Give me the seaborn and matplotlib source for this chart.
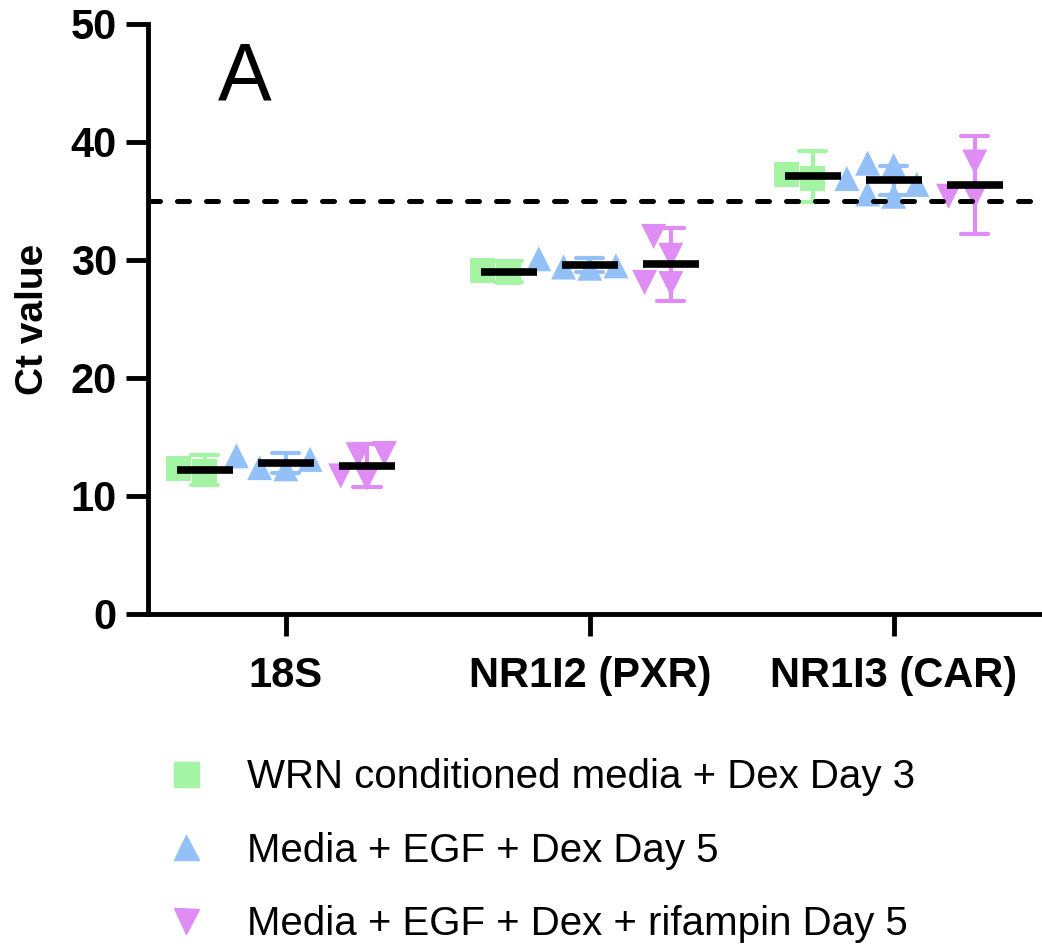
import numpy as np
import pandas as pd
import matplotlib
matplotlib.use("Agg")
import matplotlib.pyplot as plt
from matplotlib.lines import Line2D
import seaborn as sns

genes = ["18S", "NR1I2 (PXR)", "NR1I3 (CAR)"]
conds = ["WRN conditioned media + Dex Day 3",
         "Media + EGF + Dex Day 5",
         "Media + EGF + Dex + rifampin Day 5"]
markers = ["s", "^", "v"]
colors = ["#a3f5a3", "#93c1f7", "#e08cf5"]

# Ct values per gene, per condition
wrn_day3 = {"18S": [12.1, 12.3],
            "NR1I2 (PXR)": [28.93, 29.07],
            "NR1I3 (CAR)": [36.93, 37.27]}
egf_day5 = {"18S": [13.4, 13.1, 12.4, 12.3],
            "NR1I2 (PXR)": [30.1, 29.5, 29.4, 29.3],
            "NR1I3 (CAR)": [38.0, 38.2, 35.4, 35.6, 36.9, 36.4]}
rif_day5 = {"18S": [13.6, 13.5, 11.5, 11.7],
            "NR1I2 (PXR)": [32.0, 30.4, 28.0, 28.1],
            "NR1I3 (CAR)": [38.3, 35.4, 35.4]}
cutoff = 35

rows = []
for cond, d in zip(conds, [wrn_day3, egf_day5, rif_day5]):
    for g in genes:
        for v in d[g]:
            rows.append({"gene": g, "cond": cond, "ct": v})
df = pd.DataFrame(rows)

# two-sided 95% t quantiles by sample size
T95 = {2: 12.706, 3: 4.303, 4: 3.182, 5: 2.776, 6: 2.571, 7: 2.447, 8: 2.365}


def ci95(x):
    x = np.asarray(x)
    m = x.mean()
    h = T95[len(x)] * x.std(ddof=1) / np.sqrt(len(x))
    return (m - h, m + h)


sns.set_style("ticks")
plt.rcParams["font.family"] = ["Liberation Sans", "DejaVu Sans"]
plt.rcParams["text.color"] = "black"
plt.rcParams["axes.labelcolor"] = "black"
plt.rcParams["xtick.color"] = "black"
plt.rcParams["ytick.color"] = "black"
plt.rcParams["axes.edgecolor"] = "black"

fig = plt.figure(figsize=(10.42, 9.44), dpi=100)
ax = fig.add_axes([147.5 / 1042, 0.3496, 0.862, 0.625])

for cond, m, c in zip(conds, markers, colors):
    sns.swarmplot(data=df[df["cond"] == cond], x="gene", y="ct", hue="cond",
                  order=genes, hue_order=conds, dodge=True, marker=m,
                  palette=colors, size=18, linewidth=0, legend=False,
                  ax=ax, zorder=2)

# error bars (95% CI)
sns.pointplot(data=df, x="gene", y="ct", hue="cond", order=genes,
              hue_order=conds, palette=colors, dodge=0.5333,
              errorbar=ci95, capsize=0.09, markers="", linestyles="none",
              err_kws={"linewidth": 3}, legend=False, ax=ax, zorder=3)

# mean lines
sns.pointplot(data=df, x="gene", y="ct", hue="cond", order=genes,
              hue_order=conds, palette=["black"] * 3, dodge=0.5333,
              errorbar=None, markers="_", linestyles="none",
              markersize=40, markeredgewidth=5.5, legend=False, ax=ax,
              zorder=4)

ax.axhline(cutoff, color="black", lw=3.6, linestyle=(0, (2.4, 3.4)),
           dash_capstyle="round", zorder=5)

ax.set_xlim(-0.455, 2.5)
ax.set_ylim(0, 50)
ax.set_yticks([0, 10, 20, 30, 40, 50])
ax.set_xlabel("")
ax.set_ylabel("Ct value", fontsize=28, fontweight="bold", labelpad=14)
sns.despine(ax=ax)
for s in ["left", "bottom"]:
    ax.spines[s].set_linewidth(3.5)
ax.tick_params(axis="both", length=16, width=3.5, labelsize=30, pad=6)
for lab in ax.get_xticklabels() + ax.get_yticklabels():
    lab.set_fontweight("bold")
ax.tick_params(axis="x", pad=14)

fig.text(245 / 1042, 1 - 100 / 944, "A", fontsize=58, ha="center",
         va="baseline")

handles = [Line2D([], [], marker=m, color=c, linestyle="none", markersize=18)
           for m, c in zip(markers, colors)]
fig.legend(handles, conds, loc="upper left",
           bbox_to_anchor=(150 / 1042, 1 - 742 / 944), frameon=False,
           fontsize=29, handletextpad=1.0, labelspacing=0.88,
           borderaxespad=0, handlelength=1.0)

fig.savefig("out.png", dpi=100)
